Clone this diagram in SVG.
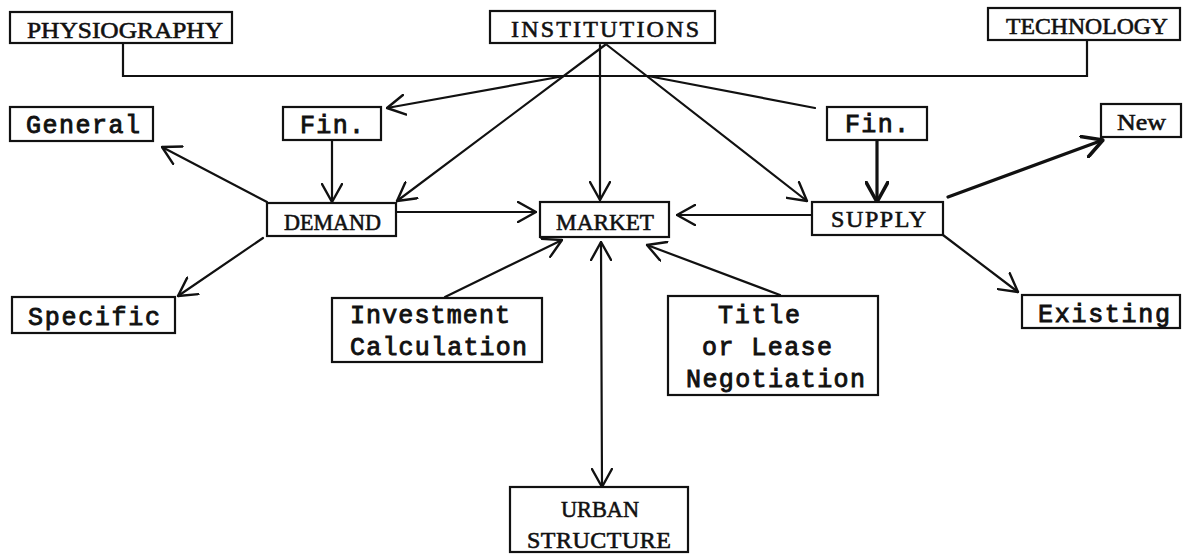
<svg xmlns="http://www.w3.org/2000/svg" width="1183" height="554" viewBox="0 0 1183 554">
<style>
.box{fill:#fff;stroke:#111;stroke-width:2.2}
.cap{font-family:"Liberation Serif",serif;font-size:24px;fill:#111;stroke:#111;stroke-width:0.6}
.mono{font-family:"Liberation Mono",monospace;font-size:25px;fill:#111;stroke:#111;stroke-width:0.9}
.ln{fill:none;stroke:#111;stroke-width:2.2;stroke-linecap:round}
.thick{stroke-width:3.2}
</style>
<defs>
<marker id="ah" viewBox="0 0 20 22" refX="19" refY="11" markerWidth="20" markerHeight="22" markerUnits="userSpaceOnUse" orient="auto-start-reverse">
<path d="M1,1 L19,11 L1,21" fill="none" stroke="#111" stroke-width="2.4" stroke-linecap="round" stroke-linejoin="round"/>
</marker>
<marker id="ahb" viewBox="0 0 22 24" refX="21" refY="12" markerWidth="22" markerHeight="24" markerUnits="userSpaceOnUse" orient="auto">
<path d="M1,1 L21,12 L1,23" fill="none" stroke="#111" stroke-width="3.6" stroke-linecap="round" stroke-linejoin="round"/>
</marker>
</defs>
<rect width="1183" height="554" fill="#fff"/>
<g id="connectors">
<polyline class="ln" points="123,43 123,76 1087,76 1087,40"/>
<line class="ln" x1="605" y1="45" x2="397" y2="201" marker-end="url(#ah)"/>
<line class="ln" x1="600" y1="45" x2="600" y2="200" marker-end="url(#ah)"/>
<line class="ln" x1="607" y1="45" x2="807" y2="201" marker-end="url(#ah)"/>
<line class="ln" x1="564" y1="76" x2="387" y2="108" marker-end="url(#ah)"/>
<line class="ln" x1="648" y1="76" x2="815" y2="108"/>
<line class="ln" x1="332" y1="141" x2="332" y2="202" marker-end="url(#ah)"/>
<line class="ln thick" x1="877" y1="141" x2="877" y2="202" marker-end="url(#ahb)"/>
<line class="ln" x1="267" y1="202" x2="162" y2="147" marker-end="url(#ah)"/>
<line class="ln" x1="263" y1="238" x2="178" y2="296" marker-end="url(#ah)"/>
<line class="ln" x1="396" y1="212" x2="536" y2="212" marker-end="url(#ah)"/>
<line class="ln" x1="812" y1="215" x2="677" y2="215" marker-end="url(#ah)"/>
<line class="ln thick" x1="948" y1="197" x2="1103" y2="140" marker-end="url(#ahb)"/>
<line class="ln" x1="943" y1="235" x2="1018" y2="292" marker-end="url(#ah)"/>
<line class="ln" x1="445" y1="297" x2="562" y2="240" marker-end="url(#ah)"/>
<line class="ln" x1="780" y1="295" x2="647" y2="245" marker-end="url(#ah)"/>
<line class="ln" x1="601" y1="242" x2="602" y2="487" marker-start="url(#ah)" marker-end="url(#ah)"/>
</g>
<g id="physiography">
<rect class="box" x="10" y="12" width="222" height="31"/>
<text class="cap" x="27" y="38" textLength="196" lengthAdjust="spacingAndGlyphs">PHYSIOGRAPHY</text>
</g>
<g id="institutions">
<rect class="box" x="490" y="11" width="225" height="32"/>
<text class="cap" x="511" y="37" textLength="188" lengthAdjust="spacing">INSTITUTIONS</text>
</g>
<g id="technology">
<rect class="box" x="988" y="8" width="192" height="32"/>
<text class="cap" x="1006" y="34" textLength="162" lengthAdjust="spacingAndGlyphs">TECHNOLOGY</text>
</g>
<g id="general">
<rect class="box" x="10" y="107" width="143" height="34"/>
<text class="mono" x="26" y="133" textLength="114" lengthAdjust="spacing">General</text>
</g>
<g id="fin-demand">
<rect class="box" x="283" y="107" width="98" height="33"/>
<text class="mono" x="300" y="133" textLength="64" lengthAdjust="spacing">Fin.</text>
</g>
<g id="fin-supply">
<rect class="box" x="827" y="107" width="100" height="33"/>
<text class="mono" x="845" y="132" textLength="64" lengthAdjust="spacing">Fin.</text>
</g>
<g id="new">
<rect class="box" x="1101" y="104" width="80" height="33"/>
<text class="cap" x="1117" y="130" font-size="26" textLength="49" lengthAdjust="spacingAndGlyphs">New</text>
</g>
<g id="demand">
<rect class="box" x="267" y="203" width="129" height="33"/>
<text class="cap" x="284" y="230" textLength="97" lengthAdjust="spacingAndGlyphs">DEMAND</text>
</g>
<g id="market">
<rect class="box" x="540" y="202" width="129" height="35"/>
<text class="cap" x="556" y="230" textLength="98" lengthAdjust="spacingAndGlyphs">MARKET</text>
</g>
<g id="supply">
<rect class="box" x="812" y="202" width="131" height="33"/>
<text class="cap" x="831" y="227" textLength="95" lengthAdjust="spacing">SUPPLY</text>
</g>
<g id="specific">
<rect class="box" x="12" y="297" width="163" height="36"/>
<text class="mono" x="28" y="325" textLength="132" lengthAdjust="spacing">Specific</text>
</g>
<g id="existing">
<rect class="box" x="1022" y="295" width="158" height="33"/>
<text class="mono" x="1038" y="322" textLength="132" lengthAdjust="spacing">Existing</text>
</g>
<g id="investment">
<rect class="box" x="332" y="298" width="210" height="64"/>
<text class="mono" x="350" y="323" textLength="160" lengthAdjust="spacing">Investment</text>
<text class="mono" x="350" y="355" textLength="177" lengthAdjust="spacing">Calculation</text>
</g>
<g id="title">
<rect class="box" x="668" y="296" width="210" height="99"/>
<text class="mono" x="718" y="323" textLength="82" lengthAdjust="spacing">Title</text>
<text class="mono" x="702" y="355" textLength="130" lengthAdjust="spacing">or Lease</text>
<text class="mono" x="686" y="387" textLength="179" lengthAdjust="spacing">Negotiation</text>
</g>
<g id="urban">
<rect class="box" x="510" y="487" width="178" height="65"/>
<text class="cap" x="561" y="517" textLength="78" lengthAdjust="spacingAndGlyphs">URBAN</text>
<text class="cap" x="527" y="548" textLength="144" lengthAdjust="spacing">STRUCTURE</text>
</g>
</svg>
